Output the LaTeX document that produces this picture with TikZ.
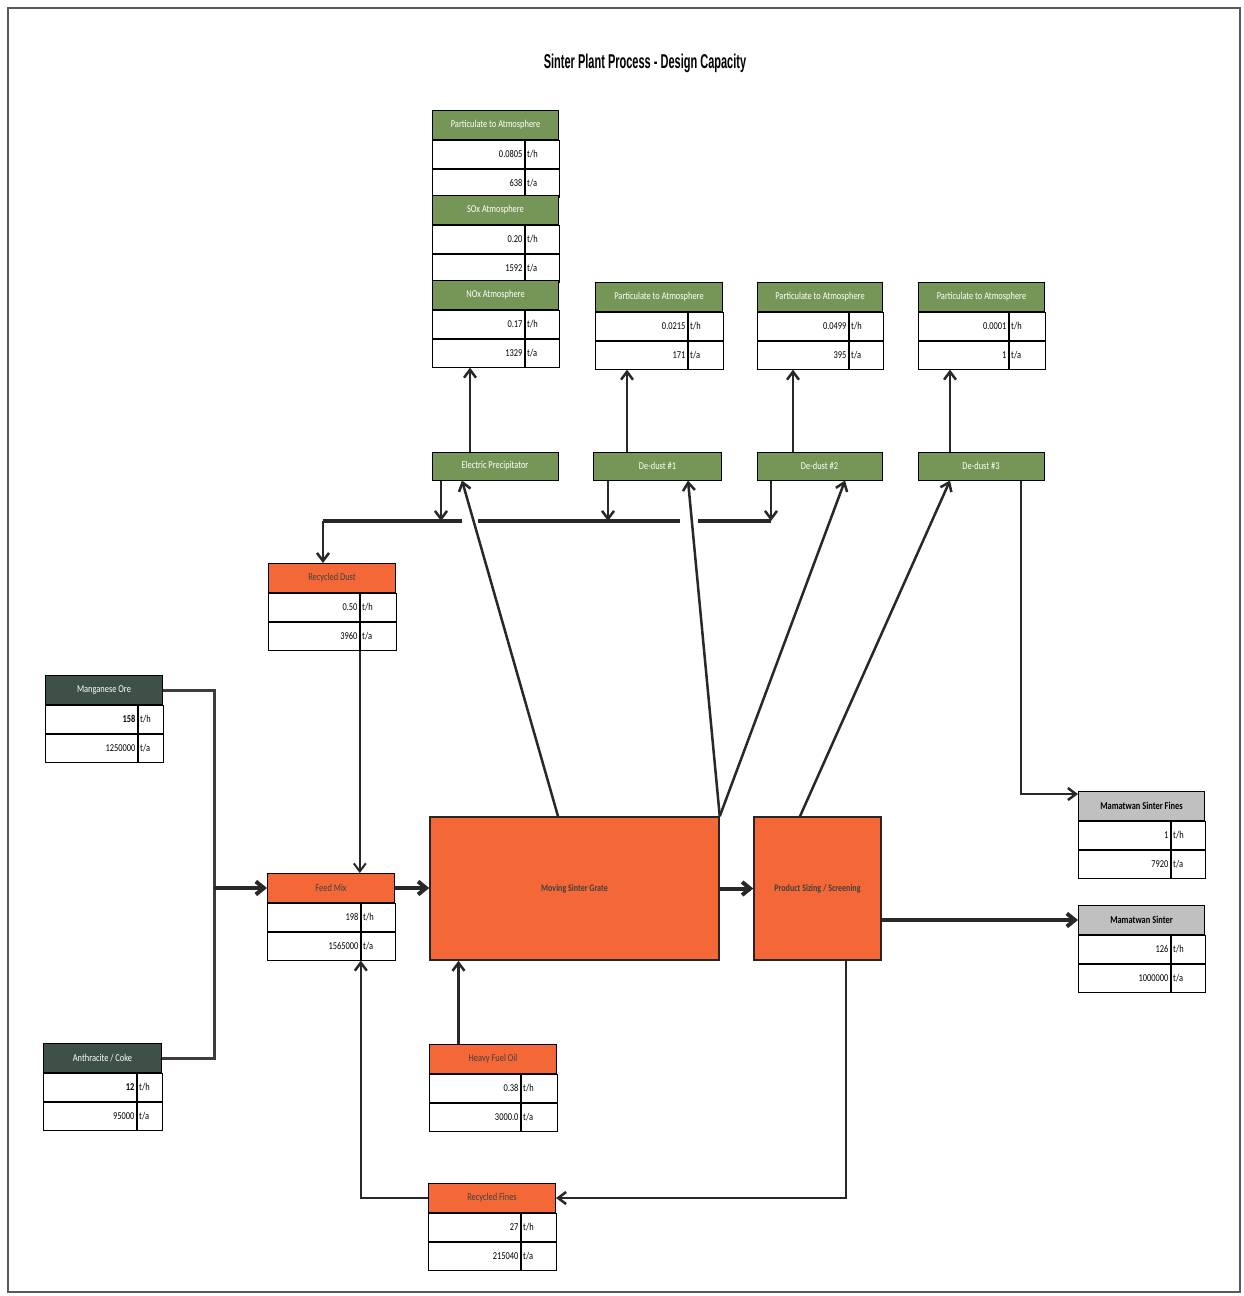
\documentclass[tikz,border=0pt]{standalone}
\usepackage{fontspec}
\setmainfont{Carlito}
\newfontfamily\lblfont{Carlito}[FakeStretch=0.8]
\newfontfamily\ttlfont{Liberation Sans}[FakeStretch=0.55]
\usetikzlibrary{arrows.meta,calc}
\definecolor{hgreen}{RGB}{118,150,88}
\definecolor{horange}{RGB}{244,104,56}
\definecolor{hdark}{RGB}{62,80,72}
\definecolor{hgray}{RGB}{192,192,192}
\definecolor{lnk}{RGB}{40,40,40}
\tikzset{
  lbl/.style={font=\lblfont\fontsize{10.5}{11}\selectfont},
  hdr/.style={lbl,draw=black,line width=1pt,minimum height=29pt,inner sep=0pt},
  hgrn/.style={fill=hgreen,text=white},
  horg/.style={fill=horange,text=black!75},
  hdrk/.style={fill=hdark,text=white},
  hgry/.style={fill=hgray,text=black,font=\lblfont\bfseries\fontsize{10.5}{11}\selectfont},
  cell/.style={lbl,draw=black,line width=0.8pt,fill=white,minimum height=28pt,inner ysep=0pt,inner xsep=2pt,text=black},
  cellv/.style={cell,align=right},
  cellu/.style={cell,align=left},
  proc/.style={lbl,draw=black,line width=1pt,fill=hgreen,text=white,minimum height=28pt,inner sep=0pt},
  big/.style={draw=black!85,line width=1.5pt,fill=horange,text=black!75,minimum height=143pt,inner sep=0pt,font=\lblfont\bfseries\fontsize{10}{11}\selectfont},
  arr/.style={draw=lnk,line width=2.5pt,-{Straight Barb[length=8pt,width=12pt]}},
  feed/.style={draw=lnk!90,line width=3pt},
  thickarr/.style={draw=lnk,line width=4pt,-{Straight Barb[length=8pt,width=13pt]}},
  bus/.style={draw=lnk,line width=4pt},
}
\newcommand\flowtab[9]{%
  \pgfmathsetmacro\tabvt{#5-4}%
  \pgfmathsetmacro\tabut{#4-#5-4}%
  \node[hdr,#6,minimum width=#4pt,anchor=north west] (#1) at (#2,#3) {#7};
  \node[cellv,text width=\tabvt pt,anchor=north west] (#1-v1) at (#1.south west) {#8};
  \node[cellu,text width=\tabut pt,anchor=north west] (#1-u1) at (#1-v1.north east) {t/h};
  \node[cellv,text width=\tabvt pt,anchor=north west] (#1-v2) at (#1-v1.south west) {#9};
  \node[cellu,text width=\tabut pt,anchor=north west] (#1-u2) at (#1-v2.north east) {t/a};
}
\begin{document}
\begin{tikzpicture}[x=1pt,y=-1pt]
\useasboundingbox (0,0) rectangle (1244,1296);
\fill[white] (0,0) rectangle (1244,1296);
\draw[gray!70!black,line width=2pt] (8,8) rectangle (1240,1292);

\node[font=\ttlfont\bfseries\fontsize{20}{23}\selectfont] (title) at (645,63) {Sinter Plant Process - Design Capacity};

% emission tables
\flowtab{pa}{432}{110}{126}{92}{hgrn}{Particulate to Atmosphere}{0.0805}{638}
\flowtab{sox}{432}{195}{126}{92}{hgrn}{SOx Atmosphere}{0.20}{1592}
\flowtab{nox}{432}{280}{126}{92}{hgrn}{NOx Atmosphere}{0.17}{1329}
\flowtab{pa1}{595}{282}{127}{92}{hgrn}{Particulate to Atmosphere}{0.0215}{171}
\flowtab{pa2}{757}{282}{125}{91}{hgrn}{Particulate to Atmosphere}{0.0499}{395}
\flowtab{pa3}{918}{282}{126}{90}{hgrn}{Particulate to Atmosphere}{0.0001}{1}

% material tables
\flowtab{rd}{268}{563}{127}{91}{horg}{Recycled Dust}{0.50}{3960}
\flowtab{mo}{45}{675}{117}{92}{hdrk}{Manganese Ore}{\bfseries 158}{1250000}
\flowtab{ac}{43}{1043}{118}{93}{hdrk}{Anthracite / Coke}{\bfseries 12}{95000}
\flowtab{fm}{267}{873}{127}{93}{horg}{Feed Mix}{198}{1565000}
\flowtab{hfo}{429}{1044}{127}{91}{horg}{Heavy Fuel Oil}{0.38}{3000.0}
\flowtab{rf}{428}{1183}{127}{92}{horg}{Recycled Fines}{27}{215040}
\flowtab{msf}{1078}{791}{126}{92}{hgry}{Mamatwan Sinter Fines}{1}{7920}
\flowtab{ms}{1078}{905}{126}{92}{hgry}{Mamatwan Sinter}{126}{1000000}

% process boxes
\node[proc,minimum width=126pt] (ep) at (495,466) {Electric Precipitator};
\node[proc,minimum width=128pt] (dd1) at (657.5,466) {De-dust \#1};
\node[proc,minimum width=125pt] (dd2) at (819.5,466) {De-dust \#2};
\node[proc,minimum width=126pt] (dd3) at (981,466) {De-dust \#3};
\node[big,minimum width=289pt] (grate) at (574.5,888.5) {Moving Sinter Grate};
\node[big,minimum width=127pt] (ps) at (817.5,888.5) {Product Sizing / Screening};

% up arrows to emission tables
\coordinate (epo) at ([xshift=-25pt]ep.north);
\coordinate (d1o) at ([xshift=-30.5pt]dd1.north);
\coordinate (d2o) at ([xshift=-26.5pt]dd2.north);
\coordinate (d3o) at ([xshift=-31pt]dd3.north);
\draw[arr] (epo) -- (epo |- nox-v2.south);
\draw[arr] (d1o) -- (d1o |- pa1-v2.south);
\draw[arr] (d2o) -- (d2o |- pa2-v2.south);
\draw[arr] (d3o) -- (d3o |- pa3-v2.south);

% dust collection bus
\coordinate (busL) at (323,521);
\coordinate (g1a) at (462,521);
\coordinate (g1b) at (478,521);
\coordinate (g2a) at (680,521);
\coordinate (g2b) at (698,521);
\coordinate (e1) at ([xshift=-54pt]ep.south);
\coordinate (e2) at ([xshift=-49.5pt]dd1.south);
\coordinate (e3) at ([xshift=-48.5pt]dd2.south);
\draw[bus] (busL) -- (g1a);
\draw[bus] (g1b) -- (g2a);
\draw[bus] (g2b) -- (e3 |- busL);
\draw[arr] (e1) -- (e1 |- busL);
\draw[arr] (e2) -- (e2 |- busL);
\draw[arr] (e3) -- (e3 |- busL);
\draw[arr] (busL) -- (busL |- rd.north);

% recycled dust to feed mix
\draw[arr,line width=2pt] (rd-v2.south east) -- (rd-v2.south east |- fm.north);

% raw materials to feed mix
\path (fm.west) ++(-53,0) coordinate (jn);
\draw[feed] (mo.east) -| (jn);
\draw[feed] (ac.east) -| (jn);
\draw[thickarr] (jn) -- (fm.west);

% feed mix -> grate -> sizing
\draw[thickarr] (fm.east) -- (fm.east -| grate.west);
\draw[thickarr] (grate.east) -- (ps.west);

% off-gas lines
\draw[arr] ([xshift=-16.5pt]grate.north) -- ([xshift=-33pt]ep.south);
\draw[arr] (grate.north east) -- ([xshift=30.5pt]dd1.south);
\draw[arr] (grate.north east) -- ([xshift=25.5pt]dd2.south);
\draw[arr] ([xshift=-17.5pt]ps.north) -- ([xshift=-31pt]dd3.south);

% de-dust 3 to sinter fines
\coordinate (d3f) at ([xshift=40pt]dd3.south);
\draw[arr] (d3f) |- ([yshift=12pt]msf.west);

% sizing to products
\draw[thickarr] (ms.west -| ps.east) -- (ms.west);
\coordinate (pso) at ([xshift=28.5pt]ps.south);
\draw[arr] (pso) |- (rf.east);
\draw[arr] (rf.west) -| (fm-v2.south east);

% heavy fuel oil
\coordinate (hfoi) at ([xshift=-34.5pt]hfo.north);
\draw[arr] (hfoi) -- (hfoi |- grate.south);
\end{tikzpicture}
\end{document}
